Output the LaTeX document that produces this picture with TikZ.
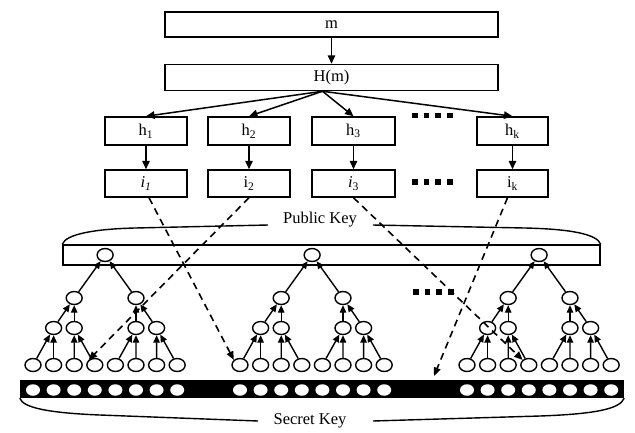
\documentclass[tikz,border=0pt]{standalone}
\usepackage{fontspec}
\setmainfont{Liberation Serif}
\usetikzlibrary{arrows.meta, positioning, shapes.geometric}

\begin{document}
\begin{tikzpicture}[x=1pt, y=-1pt, font=\fontsize{16.5}{19}\selectfont,
        stage/.style={draw, line width=1.5pt, minimum width=333pt, minimum height=26pt, inner sep=0pt},
        hashbox/.style={draw, line width=1.5pt, minimum width=82pt, minimum height=28pt, inner sep=0pt},
        keynode/.style={draw, ellipse, line width=1.4pt, fill=white, minimum width=16pt, minimum height=13pt, inner sep=0pt},
        seckey/.style={ellipse, fill=white, minimum width=14pt, minimum height=11.5pt, inner sep=0pt},
        link/.style={-{Triangle[length=8.5pt,width=7.5pt]}, line width=1.5pt},
        treelink/.style={-{Triangle[length=7.5pt,width=6.5pt]}, line width=1.4pt},
        pick/.style={-{Triangle[length=8.5pt,width=7pt]}, line width=1.6pt, dash pattern=on 7pt off 5pt},
        more/.style={line width=5.5pt, dash pattern=on 5.5pt off 6.2pt},
        keyline/.style={line width=1.4pt}]

    \useasboundingbox (0,0) rectangle (635,432);

    % message and its hash
    \node[stage, minimum height=25pt] (msg) at (331.5,24.5) {m};
    \node[stage] (hash) at (331.5,77.5) {H(m)};
    \draw[link] (msg) -- (hash);

    % hash pieces and the indices taken from them
    \node[hashbox] (h1) at (146,131) {h\textsubscript{1}};
    \node[hashbox] (h2) at (249,131) {h\textsubscript{2}};
    \node[hashbox, minimum width=83pt] (h3) at (353.5,131) {h\textsubscript{3}};
    \node[hashbox, minimum width=71pt] (hk) at (512.5,131) {h\textsubscript{k}};

    \node[hashbox, minimum height=27pt] (i1) at (146,183.5) {\textit{i\textsubscript{1}}};
    \node[hashbox, minimum height=27pt] (i2) at (249,183.5) {i\textsubscript{2}};
    \node[hashbox, minimum height=27pt, minimum width=83pt] (i3) at (353.5,183.5) {\textit{i}\textsubscript{3}};
    \node[hashbox, minimum height=27pt, minimum width=71pt] (ik) at (512.5,183.5) {i\textsubscript{k}};

    \foreach \n in {1,2,3,k} {
        \draw[link] ([xshift=-9pt]hash.south) -- (h\n.north);
        \draw[link] (h\n) -- (i\n);
    }
    \draw[more] (412,115.5) -- (453,115.5);
    \draw[more] (412,182) -- (453,182);

    % public key bar with its brace
    \node[draw, line width=1.5pt, minimum width=537pt, minimum height=20pt, inner sep=0pt] (pub) at (331.5,255) {};
    \node (publabel) at (320,220) {Public Key};
    \draw[keyline] (pub.north west) .. controls (66,234) and (95,229) .. (135,228) -- (268,225);
    \draw[keyline] (373,225) -- (525,228) .. controls (570,229) and (597,234) .. (pub.north east);

    % secret key bar with its brace
    \node[fill=black, minimum width=604pt, minimum height=18pt, inner sep=0pt] (sec) at (322,389) {};
    \node (seclabel) at (310,421) {Secret Key};
    \draw[keyline] (sec.south west) .. controls (23,408) and (50,413) .. (100,415) -- (258,421);
    \draw[keyline] (373,421) -- (540,416) .. controls (595,414) and (620,409) .. (sec.south east);

    % the three hash trees
    \foreach \t/\bx in {1/33, 2/240, 3/467} {
        \foreach \k in {1,...,8} {
            \node[keynode] (t\t-c\k) at ({\bx+20.6*(\k-1)},365) {};
            \node[seckey] (t\t-s\k) at ({\bx+20.6*(\k-1)},390) {};
        }
        \node[keynode] (t\t-b1) at ({\bx+20.6},328) {};
        \node[keynode] (t\t-b2) at ({\bx+41.2},328) {};
        \node[keynode] (t\t-b3) at ({\bx+103},328) {};
        \node[keynode] (t\t-b4) at ({\bx+123.6},328) {};
        \node[keynode] (t\t-a1) at ({\bx+41.2},298) {};
        \node[keynode] (t\t-a2) at ({\bx+103},298) {};
        \node[keynode] (t\t-r) at ({\bx+72.1},255) {};

        \foreach \c/\p in {1/1,2/1,3/2,4/2,5/3,6/3,7/4,8/4}
            \draw[treelink] (t\t-c\c) -- (t\t-b\p);
        \foreach \c/\p in {1/1,2/1,3/2,4/2}
            \draw[treelink] (t\t-b\c) -- (t\t-a\p);
        \draw[treelink] (t\t-a1) -- (t\t-r);
        \draw[treelink] (t\t-a2) -- (t\t-r);
    }
    \draw[more] (413,292) -- (456,292);

    % chosen leaves
    \coordinate (drop) at (434,376);
    \draw[pick] ([xshift=3pt]i1.south) -- (t2-c1.north west);
    \draw[pick] (i2.south) -- (t1-c4.north west);
    \draw[pick] (i3.south) -- (t3-c4.north west);
    \draw[pick] ([xshift=-5pt]ik.south) -- (drop);
\end{tikzpicture}
\end{document}
